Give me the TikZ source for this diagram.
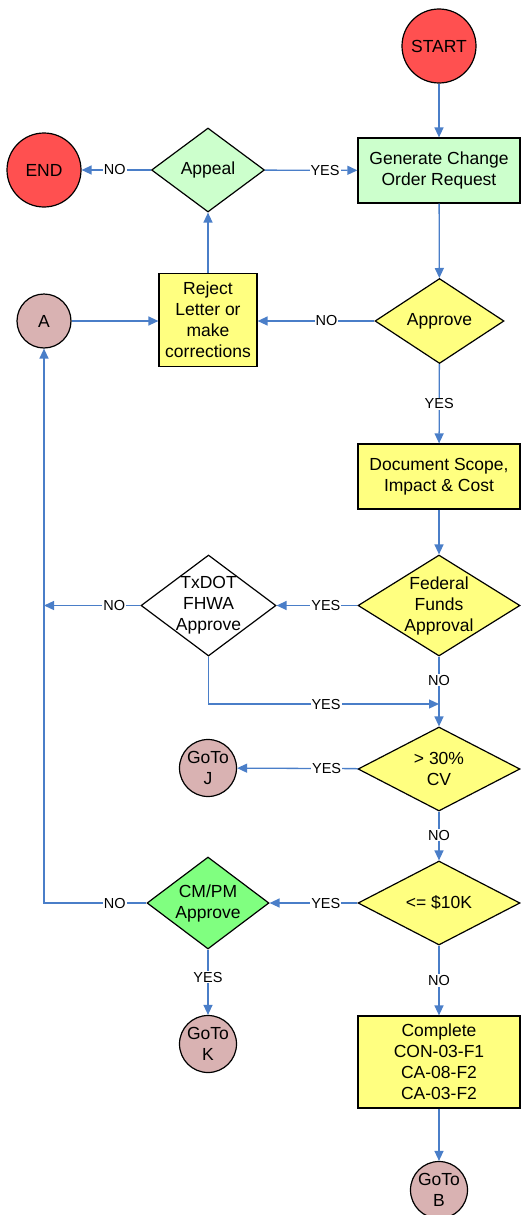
\documentclass[tikz,border=0pt]{standalone}
\usepackage{fontspec}
\setmainfont{Liberation Sans}
\usetikzlibrary{shapes.geometric,arrows.meta}

\definecolor{flowblue}{RGB}{74,126,200}
\definecolor{termred}{RGB}{255,80,80}
\definecolor{palegreen}{RGB}{204,255,204}
\definecolor{procyellow}{RGB}{255,255,128}
\definecolor{connrose}{RGB}{217,178,178}
\definecolor{brightgreen}{RGB}{128,255,128}

\tikzset{
  every node/.style={font=\fontsize{17.5}{21}\selectfont},
  term/.style={circle,draw,line width=1.2pt,fill=termred,minimum size=74pt,inner sep=0pt},
  conn/.style={circle,draw,line width=1.2pt,fill=connrose,minimum size=57pt,inner sep=0pt,align=center},
  proc/.style={rectangle,draw,line width=1.2pt,fill=procyellow,minimum width=162pt,minimum height=65pt,inner sep=2pt,align=center},
  decision/.style={diamond,draw,line width=1.2pt,fill=procyellow,inner sep=-12pt,align=center},
  flow/.style={draw=flowblue,line width=1.3pt,-{Triangle[length=10pt,width=9pt]}},
  lbl/.style={fill=white,inner sep=1pt,font=\fontsize{14.5}{16}\selectfont}
}

\begin{document}
\begin{tikzpicture}[x=1pt,y=-1pt]
\useasboundingbox (0,0) rectangle (521,1215);

% top part
\node[term] (start) at (439,46) {START};
\node[term] (end) at (44,170) {END};
\node[proc,fill=palegreen] (gen) at (439,170.5) {Generate Change\\Order Request};
\node[decision,fill=palegreen,minimum width=113pt,minimum height=84pt] (appeal) at (208,170) {Appeal};
\node[proc,minimum width=98pt,minimum height=93pt] (reject) at (208,320) {Reject\\Letter or\\make\\corrections};
\node[conn,minimum size=54pt] (a) at (44,321) {A};
\node[decision,minimum width=129pt,minimum height=85pt] (approve) at (439.5,321) {Approve};
\node[proc] (doc) at (439,476.5) {Document Scope,\\Impact \& Cost};

% federal funds
\node[decision,minimum width=162pt,minimum height=101pt] (fed) at (439,605.5) {Federal\\Funds\\Approval};
\node[decision,fill=white,minimum width=135pt,minimum height=101pt] (txdot) at (208.5,605.5) {TxDOT\\FHWA\\Approve};
\coordinate (leftline) at (44,605.5);
\coordinate (join) at (439,704);

% cost checks
\node[decision,minimum width=162pt,minimum height=84pt] (cv) at (439,769) {> 30\%\\CV};
\node[conn] (gotoj) at (208,768) {GoTo\\J};
\node[decision,minimum width=162pt,minimum height=84pt] (tenk) at (439,903) {<= \$10K};
\node[decision,fill=brightgreen,minimum width=122pt,minimum height=92pt] (cmpm) at (208,903) {CM/PM\\Approve};
\node[conn] (gotok) at (208,1044) {GoTo\\K};
\node[proc,minimum height=92pt] (complete) at (439,1062) {Complete\\CON-03-F1\\CA-08-F2\\CA-03-F2};
\node[conn] (gotob) at (439,1190) {GoTo\\B};

% connectors
\draw[flow] (start) -- (gen);
\draw[flow] (gen) -- (approve);
\draw[flow] (approve.west) -- node[lbl,pos=0.41] {NO} (approve.west -| reject.east);
\draw[flow] (appeal) -- node[lbl,pos=0.65] {YES} (gen);
\draw[flow] (appeal) -- node[lbl,pos=0.52] {NO} (end);
\draw[flow] (reject) -- (appeal);
\draw[flow] (a.east) -- (a.east -| reject.west);
\draw[flow] (approve) -- node[lbl] {YES} (doc);
\draw[flow] (doc) -- (fed);
\draw[flow] (fed) -- node[lbl,pos=0.39] {YES} (txdot);
\draw[flow] (txdot.west) -- node[lbl,pos=0.27] {NO} (leftline);
\draw[flow] (fed) -- node[lbl,pos=0.34] {NO} (cv);
\draw[flow] (txdot.south) |- node[lbl,pos=0.755] {YES} (join);
\draw[flow] (cv) -- node[lbl,pos=0.26] {YES} (gotoj);
\draw[flow] (cv) -- node[lbl,pos=0.48] {NO} (tenk);
\draw[flow] (tenk) -- node[lbl,pos=0.36] {YES} (cmpm);
\draw[flow] (tenk) -- node[lbl] {NO} (complete);
\draw[flow] (cmpm.west) -| node[lbl,pos=0.155] {NO} (a.south);
\draw[flow] (cmpm) -- node[lbl,pos=0.42] {YES} (gotok);
\draw[flow] (complete) -- (gotob);
\end{tikzpicture}
\end{document}
